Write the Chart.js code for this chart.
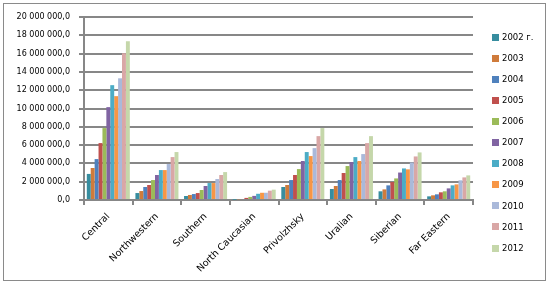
<!DOCTYPE html>
<html>
<head>
<meta charset="utf-8">
<script src="https://cdn.jsdelivr.net/npm/chart.js@4/dist/chart.umd.min.js"></script>
<style>
	html, body { margin: 0; padding: 0; background: #fff; }
	#wrap { width: 549px; height: 284px; position: relative; }
</style>
</head>
<body>
<div id="wrap"><canvas id="chart" width="549" height="284"></canvas></div>
<script>
const regions = ['Central', 'Northwestern', 'Southern', 'North Caucasian', 'Privolzhsky', 'Uralian', 'Siberian', 'Far Eastern']
const years = ['2002 г.', '2003', '2004', '2005', '2006', '2007', '2008', '2009', '2010', '2011', '2012']
const colors = ['#378D9F', '#CF7B3B', '#4F81BD', '#C0504D', '#9BBB59', '#8064A2', '#4BACC6', '#F79646', '#AAB9DA', '#D9A7A6', '#C5D7AA']

// values per year, one number per region (same order as regions)
const y2002 = [2850000, 760000, 440000, 30000, 1420000, 1200000, 950000, 400000]
const y2003 = [3500000, 980000, 550000, 80000, 1640000, 1530000, 1160000, 510000]
const y2004 = [4470000, 1420000, 650000, 110000, 2180000, 2180000, 1600000, 620000]
const y2005 = [6220000, 1640000, 760000, 230000, 2730000, 2950000, 1960000, 840000]
const y2006 = [7860000, 2180000, 1090000, 340000, 3380000, 3710000, 2360000, 950000]
const y2007 = [10150000, 2730000, 1530000, 450000, 4260000, 4150000, 3000000, 1270000]
const y2008 = [12550000, 3270000, 1850000, 680000, 5240000, 4690000, 3450000, 1600000]
const y2009 = [11350000, 3270000, 1850000, 790000, 4800000, 4260000, 3350000, 1710000]
const y2010 = [13300000, 3930000, 2290000, 790000, 5670000, 5020000, 4100000, 2150000]
const y2011 = [16040000, 4690000, 2730000, 1020000, 6980000, 6220000, 4760000, 2470000]
const y2012 = [17350000, 5240000, 3050000, 1130000, 7860000, 6980000, 5200000, 2690000]
const series = [y2002, y2003, y2004, y2005, y2006, y2007, y2008, y2009, y2010, y2011, y2012]

const yTicks = [0, 2000000, 4000000, 6000000, 8000000, 10000000, 12000000, 14000000, 16000000, 18000000, 20000000]

const gridColor = '#878787'

function fmt(v) {
	const s = String(Math.round(v)).replace(/\B(?=(\d{3})+(?!\d))/g, ' ')
	return s + ',0'
}

const frame = {
	id: 'frame',
	beforeDraw(chart) {
		const ctx = chart.ctx
		ctx.save()
		ctx.strokeStyle = '#8a8a8a'
		ctx.lineWidth = 1
		ctx.strokeRect(3.5, 3.5, 542, 277)
		ctx.restore()
	},
	afterDraw(chart) {
		const ctx = chart.ctx
		ctx.save()
		ctx.font = '8.5px "DejaVu Sans"'
		ctx.textBaseline = 'middle'
		chart.data.datasets.forEach((ds, i) => {
			const y = 37 + i * 21.1
			ctx.fillStyle = ds.backgroundColor
			ctx.fillRect(492, Math.round(y - 3.5), 7, 7)
			ctx.fillStyle = '#000'
			ctx.fillText(ds.label, 502, y + 0.5)
		})
		ctx.restore()
	}
}

new Chart(document.getElementById('chart'), {
	type: 'bar',
	data: {
		labels: regions,
		datasets: series.map((data, i) => ({
			label: years[i],
			data: data,
			backgroundColor: colors[i],
			borderWidth: 0,
			barPercentage: 1,
			categoryPercentage: 0.885
		}))
	},
	options: {
		responsive: false,
		animation: false,
		layout: { padding: { top: 17, right: 76, left: 0, bottom: 0 } },
		plugins: {
			legend: { display: false },
			tooltip: { enabled: false }
		},
		scales: {
			x: {
				afterFit: (scale) => { scale.height = 84 },
				grid: { drawOnChartArea: false, color: gridColor, lineWidth: 2, tickLength: 5, offset: true },
				border: { color: gridColor, width: 2 },
				ticks: {
					color: '#000',
					font: { family: 'DejaVu Sans', size: 9.5 },
					minRotation: 45,
					maxRotation: 45,
					padding: 6,
					autoSkip: false
				}
			},
			y: {
				min: 0,
				max: 20000000,
				afterFit: (scale) => { scale.width = 84 },
				afterBuildTicks: (scale) => { scale.ticks = yTicks.map(v => ({ value: v })) },
				grid: { color: gridColor, lineWidth: 2, tickLength: 5 },
				border: { color: gridColor, width: 2 },
				ticks: {
					color: '#000',
					font: { family: 'DejaVu Sans', size: 8 },
					padding: 9,
					callback: (v) => fmt(v)
				}
			}
		}
	},
	plugins: [frame]
})
</script>
</body>
</html>
